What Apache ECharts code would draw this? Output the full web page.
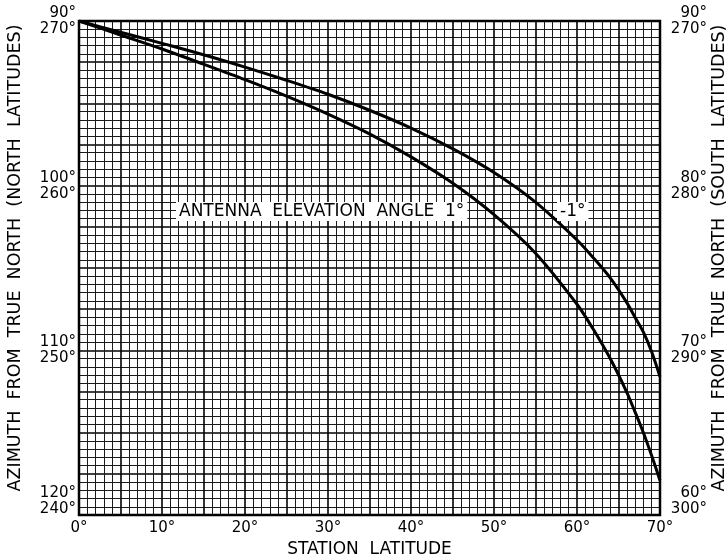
<!DOCTYPE html>
<html>
<head>
<meta charset="utf-8">
<script src="https://cdn.jsdelivr.net/npm/echarts@6/dist/echarts.min.js"></script>
<style>
html,body{margin:0;padding:0;background:#fff;}
#chart{width:728px;height:559px;}
</style>
</head>
<body>
<div id="chart"></div>
<script>
// ---- data ----
const latitudes = [0, 5, 10, 15, 20, 25, 30, 35, 40, 45, 50, 55, 60, 62, 64, 66, 67, 68, 69, 70];
// antenna elevation angle -1 deg (upper curve)
const azimuthMinus1 = [90, 90.68, 91.36, 92.05, 92.8, 93.6, 94.45, 95.42, 96.5, 97.75, 99.2, 101.0, 103.3, 104.4, 105.6, 107.1, 108.0, 108.9, 110.1, 111.6];
// antenna elevation angle 1 deg (lower curve)
const azimuthPlus1 = [90, 90.85, 91.7, 92.62, 93.56, 94.56, 95.65, 96.85, 98.25, 99.84, 101.76, 104.1, 107.2, 108.75, 110.5, 112.55, 113.75, 115.0, 116.4, 117.9];
const yTicks = [90, 100, 110, 120];
const leftTickLabels = ['90°\n270°', '100°\n260°', '110°\n250°', '120°\n240°'];
const rightTickLabels = ['90°\n270°', '80°\n280°', '70°\n290°', '60°\n300°'];
const xTicks = [0, 10, 20, 30, 40, 50, 60, 70];
const xTickLabels = ['0°', '10°', '20°', '30°', '40°', '50°', '60°', '70°'];
const xTitle = 'STATION  LATITUDE';
const leftTitle = 'AZIMUTH  FROM  TRUE  NORTH  (NORTH  LATITUDES)';
const rightTitle = 'AZIMUTH  FROM  TRUE  NORTH  (SOUTH  LATITUDES)';
const curveLabel = 'ANTENNA  ELEVATION  ANGLE  1°';
const curveLabel2 = '-1°';

const FONT = 'DejaVu Sans';

function pairs(xs, ys) { return xs.map((x, i) => [x, ys[i]]); }

function yLabelFormatter(labels) {
  return function (v) {
    const i = yTicks.indexOf(Math.round(v * 100) / 100);
    if (i < 0) return '';
    const parts = labels[i].split('\n');
    let s = '{a|' + parts[0] + '}\n{a|' + parts[1] + '}';
    if (i === yTicks.length - 1) s += '\n{s| }';
    return s;
  };
}

const chart = echarts.init(document.getElementById('chart'), null, { renderer: 'canvas' });

const minorLine = { show: true, lineStyle: { color: '#1a1a1a', width: 1 } };
const majorLine = { show: true, lineStyle: { color: '#000', width: 1.6 } };

const option = {
  backgroundColor: '#fff',
  animation: false,
  textStyle: { fontFamily: FONT, color: '#000' },
  grid: {
    left: 79, right: 68, top: 21, bottom: 44,
    outerBoundsMode: 'none', containLabel: false,
    show: true, borderColor: '#000', borderWidth: 2.5, backgroundColor: 'transparent', z: 3
  },
  xAxis: {
    type: 'value', min: 0, max: 70, interval: 5,
    name: xTitle, nameLocation: 'middle', nameGap: 25,
    nameTextStyle: { fontFamily: FONT, fontSize: 17, color: '#000' },
    axisLine: { show: false }, axisTick: { show: false },
    axisLabel: {
      margin: 6, fontFamily: FONT, fontSize: 15, color: '#000',
      formatter: function (v) { const i = xTicks.indexOf(v); return i < 0 ? '' : xTickLabels[i]; }
    },
    splitLine: majorLine,
    minorTick: { show: false, splitNumber: 5 },
    minorSplitLine: minorLine
  },
  yAxis: [
    {
      type: 'value', min: 90, max: 120, interval: 2.5, inverse: true, position: 'left',
      name: leftTitle, nameLocation: 'middle', nameGap: 55, nameRotate: 90,
      nameTextStyle: { fontFamily: FONT, fontSize: 17.5, color: '#000', padding: [0, 0, 0, 20] },
      axisLine: { show: false }, axisTick: { show: false },
      axisLabel: {
        margin: 3, align: 'right', fontFamily: FONT, fontSize: 15, color: '#000',
        formatter: yLabelFormatter(leftTickLabels),
        rich: { a: { fontFamily: FONT, fontSize: 15, lineHeight: 16, align: 'right', color: '#000' }, s: { fontSize: 10, lineHeight: 28 } }
      },
      splitLine: majorLine,
      minorTick: { show: false, splitNumber: 5 },
      minorSplitLine: minorLine
    },
    {
      type: 'value', min: 90, max: 120, interval: 2.5, inverse: true, position: 'right',
      name: rightTitle, nameLocation: 'middle', nameGap: 50, nameRotate: 90, nameMoveOverlap: false,
      nameTextStyle: { fontFamily: FONT, fontSize: 17.5, color: '#000', padding: [0, 0, 0, 20] },
      axisLine: { show: false }, axisTick: { show: false },
      axisLabel: {
        margin: 47, align: 'right', fontFamily: FONT, fontSize: 15, color: '#000',
        formatter: yLabelFormatter(rightTickLabels),
        rich: { a: { fontFamily: FONT, fontSize: 15, lineHeight: 16, align: 'right', color: '#000' }, s: { fontSize: 10, lineHeight: 28 } }
      },
      splitLine: { show: false }
    }
  ],
  series: [
    {
      name: '-1°', type: 'line', data: pairs(latitudes, azimuthMinus1),
      smooth: 0.3, showSymbol: false, symbol: 'none', z: 5,
      lineStyle: { color: '#000', width: 3 }
    },
    {
      name: '1°', type: 'line', data: pairs(latitudes, azimuthPlus1),
      smooth: 0.3, showSymbol: false, symbol: 'none', z: 5,
      lineStyle: { color: '#000', width: 3 }
    }
  ],
  graphic: [
    {
      type: 'text', left: 176, top: 202, z: 10,
      style: { text: curveLabel, fontFamily: FONT, fontSize: 17, fill: '#000', backgroundColor: '#fff', padding: [1, 3, 1, 3] }
    },
    {
      type: 'text', left: 557, top: 202, z: 10,
      style: { text: curveLabel2, fontFamily: FONT, fontSize: 17, fill: '#000', backgroundColor: '#fff', padding: [1, 3, 1, 3] }
    }
  ]
};
chart.setOption(option);
</script>
</body>
</html>
